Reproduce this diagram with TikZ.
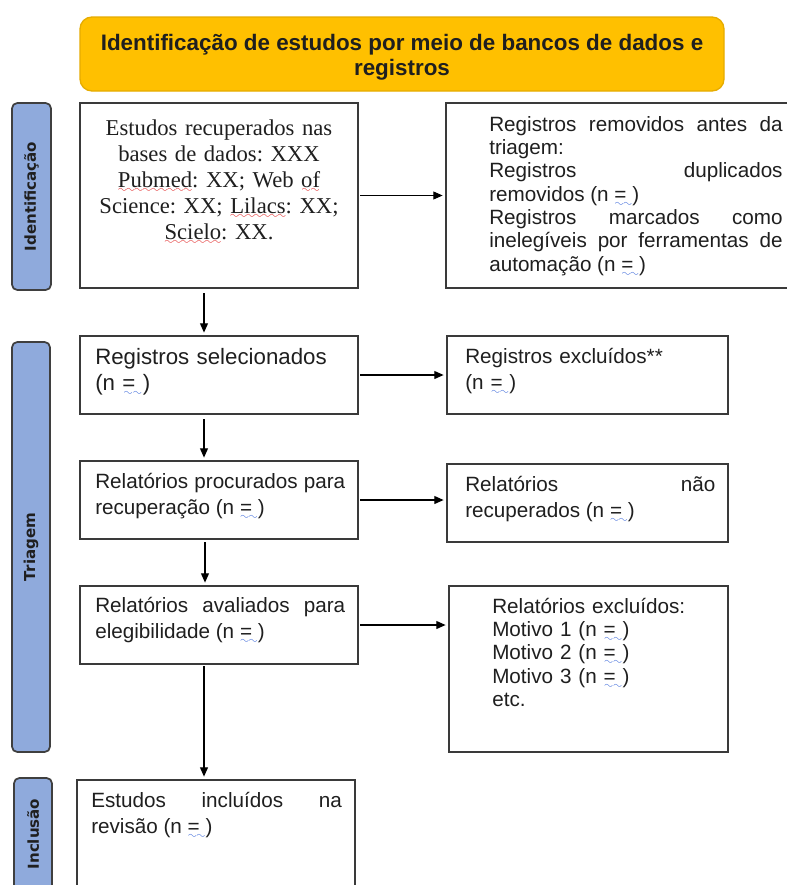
\documentclass[tikz,border=0pt]{standalone}
\usepackage{fontspec}
\setmainfont{Liberation Sans}
\newfontfamily\serifbox{Liberation Serif}
\newfontfamily\labelfont{DejaVu Sans}
\usetikzlibrary{fit,arrows.meta,calc}
\definecolor{hdr}{HTML}{FFC000}
\definecolor{hdrline}{HTML}{E6AC00}
\definecolor{side}{HTML}{8FAADC}
\definecolor{sideline}{HTML}{3F3F3F}
\definecolor{boxline}{HTML}{3A3A3A}
\definecolor{txt}{HTML}{1F1F1F}
\definecolor{spellred}{HTML}{E01818}
\definecolor{spellblue}{HTML}{2F5FD8}
\frenchspacing
\font\wavyfont=lasy8
\newsavebox\wavybox
\newcommand\wavec[2]{\sbox\wavybox{#2}\leavevmode\rlap{\textcolor{#1}{\lower3.8pt\hbox to\wd\wavybox{\xleaders\hbox{\wavyfont\char58}\hfil}}}\usebox\wavybox}
\newcommand\nn{(n \wavec{spellblue}{=~})}
\begin{document}
\begin{tikzpicture}[x=0.75pt,y=-0.75pt,
  frame/.style={draw=boxline,line width=1.1pt,inner sep=0pt},
  sidebar/.style={draw=sideline,fill=side,line width=1.3pt,rounded corners=4pt,inner sep=0pt},
  sidetext/.style={rotate=90,font=\labelfont\bfseries\fontsize{11.3}{13}\selectfont,text=txt,inner sep=0pt},
  body/.style={anchor=base west,inner sep=0pt,text=txt,font=\fontsize{15.5}{19.5}\selectfont},
  tight/.style={font=\fontsize{15.5}{17.5}\selectfont},
  arr/.style={-{Triangle[length=7pt,width=6pt]},line width=0.85pt,draw=black,shorten <=1pt,shorten >=2pt}]

\useasboundingbox (0,0) rectangle (786,885);
\fill[white] (0,0) rectangle (786,885);

% header
\node[fit={(80,17) (724,91)}, draw=hdrline, fill=hdr, rounded corners=9pt, line width=1pt, inner sep=0pt] (hdr) {};
\node[font=\bfseries\fontsize{16.8}{18.75}\selectfont, align=center, text=txt, inner sep=0pt] (hdrtext) at (402,57) {Identificação de estudos por meio de bancos de dados e\\registros};

% side bars
\node[sidebar, fit={(12,103) (51,290)}] (s1) {};
\node[sidetext] (s1t) at (s1.center) {Identificação};
\node[sidebar, fit={(12,342) (50,752)}] (s2) {};
\node[sidetext] (s2t) at (s2.center) {Triagem};
\node[sidebar, fit={(14,778) (52,900)}] (s3) {};
\node[sidetext] (s3t) at (33,834) {Inclusão};

% boxes
\node[frame, fit={(80,103) (358,288)}] (b1) {};
\node[frame, fit={(446,103) (792,288)}] (b2) {};
\node[frame, fit={(80,336) (358,414)}] (b3) {};
\node[frame, fit={(447,336) (728,414)}] (b4) {};
\node[frame, fit={(80,461) (358,539)}] (b5) {};
\node[frame, fit={(447,464) (728,542)}] (b6) {};
\node[frame, fit={(80,586) (358,664)}] (b7) {};
\node[frame, fit={(449,586) (728,752)}] (b8) {};
\node[frame, fit={(77,780) (355,900)}] (b9) {};

% texts
\node[anchor=base, inner sep=0pt, text=txt, font=\serifbox\fontsize{17}{19.5}\selectfont, align=center, text width=190pt] (t1) at (219,135)
 {Estudos recuperados nas\\bases de dados: XXX\\\wavec{spellred}{Pubmed}: XX; Web \wavec{spellred}{of}\\Science: XX; \wavec{spellred}{Lilacs}: XX;\\\wavec{spellred}{Scielo}: XX.};
\node[body, tight, align=justify, text width=220pt] (t2) at (489,131)
 {Registros removidos antes da\linebreak triagem:\par Registros duplicados\linebreak removidos \nn\par Registros marcados como\linebreak inelegíveis por ferramentas de\linebreak automação \nn};
\node[body, align=left, text width=210pt, font=\fontsize{16.7}{19.5}\selectfont] (t3) at (95,364) {Registros selecionados\\\nn};
\node[body, align=left, text width=200pt] (t4) at (465,363) {Registros excluídos**\\\nn};
\node[body, align=justify, text width=187.5pt] (t5) at (95,488) {Relatórios procurados para\linebreak recuperação \nn};
\node[body, align=justify, text width=187.5pt] (t6) at (465,491) {Relatórios não\linebreak recuperados \nn};
\node[body, align=justify, text width=187.5pt] (t7) at (95,612) {Relatórios avaliados para\linebreak elegibilidade \nn};
\node[body, tight, align=left, text width=180pt] (t8) at (492,613) {Relatórios excluídos:\\Motivo 1 \nn\\Motivo 2 \nn\\Motivo 3 \nn\\etc.};
\node[body, align=justify, text width=188pt] (t9) at (91,807) {Estudos incluídos na\linebreak revisão \nn};

% connectors
\draw[arr] (b1.east) -- (b2.west);
\coordinate (c1) at (204,292);
\draw[arr] (c1) -- (c1 |- b3.north);
\draw[arr] (b3.east) -- (b4.west);
\coordinate (c2) at (204,418);
\draw[arr] (c2) -- (c2 |- b5.north);
\draw[arr] (b5.east) -- (b5.east -| b6.west);
\coordinate (c3) at (205,541);
\draw[arr] (c3) -- (c3 |- b7.north);
\draw[arr] (b7.east) -- (b7.east -| b8.west);
\coordinate (c4) at (204,665);
\draw[arr] (c4) -- (c4 |- b9.north);
\end{tikzpicture}
\end{document}
